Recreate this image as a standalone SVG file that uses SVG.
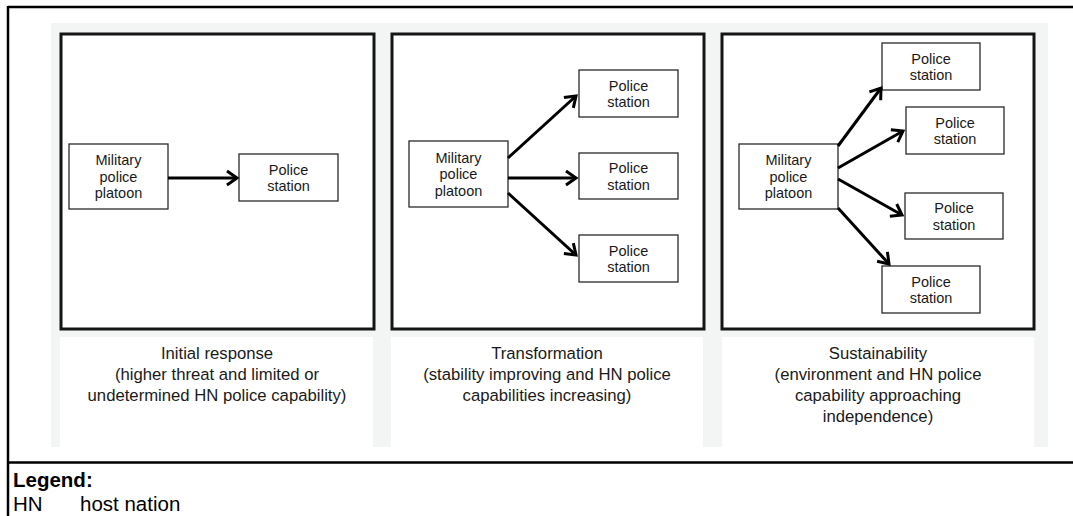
<svg xmlns="http://www.w3.org/2000/svg" width="1073" height="516" viewBox="0 0 1073 516">
<style>
.frame{stroke:#000;stroke-width:2.5;fill:none}
.panel{fill:#fff;stroke:#151515;stroke-width:3}
.cap{fill:#fff}
.box{fill:#fff;stroke:#2a2a2a;stroke-width:1.3}
.t{font-family:"Liberation Sans",Arial,sans-serif;font-size:14.5px;fill:#1a1a1a;text-anchor:middle}
.c{font-family:"Liberation Sans",Arial,sans-serif;font-size:16.7px;fill:#1a1a1a;text-anchor:middle}
.lg{font-family:"Liberation Sans",Arial,sans-serif;font-size:20.5px;fill:#000}
.arr{stroke:#000;stroke-width:3;fill:none;marker-end:url(#ah)}
</style>
<defs>
<marker id="ah" markerUnits="userSpaceOnUse" markerWidth="24" markerHeight="24" viewBox="-12 -12 24 24" refX="0" refY="0" orient="auto" overflow="visible">
<path d="M-10,-7 L0,0 L-10,7" fill="none" stroke="#000" stroke-width="3" stroke-linejoin="miter"/>
</marker>
</defs>
<rect width="1073" height="516" fill="#fff"/>
<g id="frame">
<line class="frame" x1="8" y1="7" x2="1073" y2="7"/>
<line class="frame" x1="8" y1="6" x2="8" y2="516"/>
<line class="frame" x1="8" y1="462.5" x2="1073" y2="462.5"/>
</g>
<rect id="background" x="51" y="23" width="997" height="424" fill="#f3f5f5"/>
<g id="panel1">
<rect class="panel" x="61" y="34" width="313" height="295"/>
<rect class="cap" x="60" y="337" width="313" height="110"/>
<text class="c" x="217" y="359">Initial response</text>
<text class="c" x="217" y="380">(higher threat and limited or</text>
<text class="c" x="217" y="401">undetermined HN police capability)</text>
</g>
<g id="panel2">
<rect class="panel" x="392" y="34" width="312" height="295"/>
<rect class="cap" x="391" y="337" width="312" height="110"/>
<text class="c" x="547" y="359">Transformation</text>
<text class="c" x="547" y="380">(stability improving and HN police</text>
<text class="c" x="547" y="401">capabilities increasing)</text>
</g>
<g id="panel3">
<rect class="panel" x="722" y="34" width="312" height="295"/>
<rect class="cap" x="722" y="337" width="312" height="110"/>
<text class="c" x="878" y="359">Sustainability</text>
<text class="c" x="878" y="380">(environment and HN police</text>
<text class="c" x="878" y="401">capability approaching</text>
<text class="c" x="878" y="422">independence)</text>
</g>
<g id="p1-mpp">
<rect class="box" x="69" y="144" width="99" height="65"/>
<text class="t" x="118.5" y="165">Military</text>
<text class="t" x="118.5" y="181.5">police</text>
<text class="t" x="118.5" y="198">platoon</text>
</g>
<g id="p1-ps">
<rect class="box" x="239" y="154" width="99" height="47"/>
<text class="t" x="288.5" y="174.5">Police</text>
<text class="t" x="288.5" y="191">station</text>
</g>
<g id="p2-mpp">
<rect class="box" x="409" y="141" width="99" height="66"/>
<text class="t" x="458.5" y="162.5">Military</text>
<text class="t" x="458.5" y="179">police</text>
<text class="t" x="458.5" y="195.5">platoon</text>
</g>
<g id="p2-ps1">
<rect class="box" x="579" y="70" width="99" height="47"/>
<text class="t" x="628.5" y="90.5">Police</text>
<text class="t" x="628.5" y="107">station</text>
</g>
<g id="p2-ps2">
<rect class="box" x="579" y="153" width="99" height="46"/>
<text class="t" x="628.5" y="173">Police</text>
<text class="t" x="628.5" y="189.5">station</text>
</g>
<g id="p2-ps3">
<rect class="box" x="579" y="235" width="99" height="47"/>
<text class="t" x="628.5" y="255.5">Police</text>
<text class="t" x="628.5" y="272">station</text>
</g>
<g id="p3-mpp">
<rect class="box" x="739" y="144" width="99" height="65"/>
<text class="t" x="788.5" y="165">Military</text>
<text class="t" x="788.5" y="181.5">police</text>
<text class="t" x="788.5" y="198">platoon</text>
</g>
<g id="p3-ps1">
<rect class="box" x="882" y="43" width="98" height="47"/>
<text class="t" x="931" y="63.5">Police</text>
<text class="t" x="931" y="80">station</text>
</g>
<g id="p3-ps2">
<rect class="box" x="906" y="107" width="98" height="47"/>
<text class="t" x="955" y="127.5">Police</text>
<text class="t" x="955" y="144">station</text>
</g>
<g id="p3-ps3">
<rect class="box" x="905" y="193" width="98" height="46"/>
<text class="t" x="954" y="213">Police</text>
<text class="t" x="954" y="229.5">station</text>
</g>
<g id="p3-ps4">
<rect class="box" x="882" y="266" width="98" height="47"/>
<text class="t" x="931" y="286.5">Police</text>
<text class="t" x="931" y="303">station</text>
</g>
<g id="connectors">
<line class="arr" x1="168" y1="178" x2="237" y2="178"/>
<line class="arr" x1="508" y1="158" x2="576" y2="96"/>
<line class="arr" x1="508" y1="178" x2="576" y2="178"/>
<line class="arr" x1="508" y1="193" x2="576" y2="255"/>
<line class="arr" x1="838" y1="146" x2="881" y2="88"/>
<line class="arr" x1="838" y1="168" x2="903" y2="131"/>
<line class="arr" x1="838" y1="179" x2="902" y2="215"/>
<line class="arr" x1="838" y1="208" x2="889" y2="264"/>
</g>
<g id="legend">
<text class="lg" x="13" y="487" font-weight="bold">Legend:</text>
<text class="lg" x="13" y="511">HN</text>
<text class="lg" x="80" y="511">host nation</text>
</g>
</svg>
